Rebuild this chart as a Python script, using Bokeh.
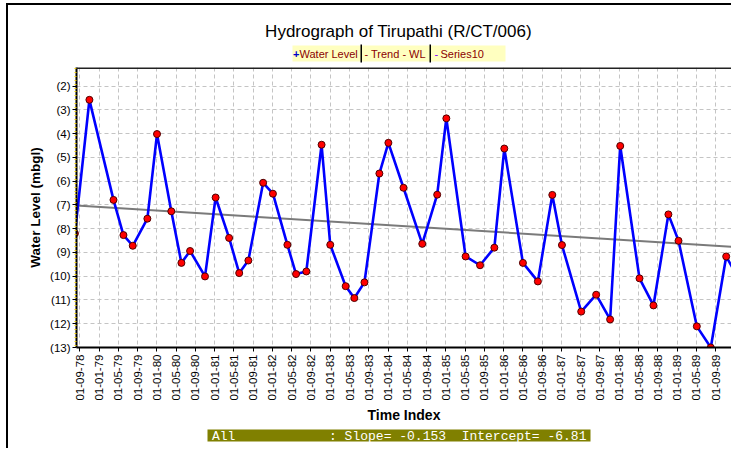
import numpy as np
import pandas as pd
from bokeh.plotting import figure
from bokeh.layouts import column
from bokeh.models import Range1d, FixedTicker, Span
from bokeh.core.properties import value
from bokeh.embed import file_html
from bokeh.resources import INLINE

# ---------------- data ----------------
dates = ["1978-08-01", "1978-11-01", "1979-04-01", "1979-06-03", "1979-08-01",
         "1979-11-02", "1980-01-02", "1980-04-01", "1980-06-04", "1980-07-28",
         "1980-11-01", "1981-01-07", "1981-04-01", "1981-06-04", "1981-08-01",
         "1981-11-03", "1982-01-04", "1982-04-04", "1982-05-28", "1982-08-02",
         "1982-11-07", "1983-01-01", "1983-04-07", "1983-06-01", "1983-08-04",
         "1983-11-07", "1984-01-03", "1984-04-07", "1984-08-04", "1984-11-07",
         "1985-01-04", "1985-05-04", "1985-08-04", "1985-11-03", "1986-01-05",
         "1986-05-01", "1986-08-04", "1986-11-04", "1987-01-04", "1987-05-04",
         "1987-08-07", "1987-11-04", "1988-01-07", "1988-05-07", "1988-08-04",
         "1988-11-07", "1989-01-10", "1989-05-04", "1989-08-01", "1989-11-07",
         "1990-01-07"]
water_level = [8.2, 2.58, 6.79, 8.27, 8.72,
               7.58, 4.02, 7.27, 9.44, 8.94,
               10.01, 6.69, 8.39, 9.87, 9.34,
               6.07, 6.53, 8.68, 9.91, 9.80,
               4.47, 8.68, 10.42, 10.92, 10.26,
               5.68, 4.39, 6.28, 8.64, 6.57,
               3.36, 9.17, 9.54, 8.80, 4.63,
               9.44, 10.22, 6.58, 8.69, 11.49,
               10.78, 11.82, 4.52, 10.09, 11.23,
               7.40, 8.51, 12.11, 13.0, 9.17,
               9.9]

x_tick_labels = ["01-09-78", "01-01-79", "01-05-79", "01-09-79", "01-01-80", "01-05-80",
                 "01-09-80", "01-01-81", "01-05-81", "01-09-81", "01-01-82", "01-05-82",
                 "01-09-82", "01-01-83", "01-05-83", "01-09-83", "01-01-84", "01-05-84",
                 "01-09-84", "01-01-85", "01-05-85", "01-09-85", "01-01-86", "01-05-86",
                 "01-09-86", "01-01-87", "01-05-87", "01-09-87", "01-01-88", "01-05-88",
                 "01-09-88", "01-01-89", "01-05-89", "01-09-89"]
y_ticks = [2, 3, 4, 5, 6, 7, 8, 9, 10, 11, 12, 13]
y_tick_labels = ["(2)", "(3)", "(4)", "(5)", "(6)", "(7)", "(8)", "(9)", "(10)", "(11)", "(12)", "(13)"]

legend_labels = ["Water Level", "- Trend - WL", "Series10"]

trend_slope = -0.153        # per year
trend_intercept = -6.81
trend_origin = "1977-03-07"

stats_text = "All            : Slope= -0.153  Intercept= -6.81"
title_text = "Hydrograph of Tirupathi (R/CT/006)"

# ---------------- helpers ----------------
BASE = pd.Timestamp("1978-09-01")


def month_index(ds):
    d = pd.to_datetime(pd.Series(ds))
    return ((d.dt.year - BASE.year) * 12 + (d.dt.month - BASE.month) + (d.dt.day - 1) / 30.0).to_numpy()


xm = month_index(dates)
x_ticks = [4 * i for i in range(len(x_tick_labels))]

W = 731
FRAME_LEFT = 76
HEADER_H = 67
MAIN_H = 358
FOOTER_H = 23
X0, X1 = -0.68, 135.3
Y_BOT, Y_TOP = 13.0, 1.22

FRAME_CSS = {
    "background-color": "white",
    "background-image": "linear-gradient(#000, #000), linear-gradient(#000, #000)",
    "background-size": "2px 100%, 100% 2px",
    "background-repeat": "no-repeat",
}


def pixel_canvas(h, top_line):
    # frame is aligned with the main plot's frame by the column layout,
    # so the x range maps page pixels FRAME_LEFT..W
    f = figure(width=W, height=h, output_backend="svg", toolbar_location=None,
               x_range=Range1d(FRAME_LEFT, W), y_range=Range1d(h, 0),
               x_axis_location=None, y_axis_location=None,
               min_border=0, min_border_left=0, min_border_right=0,
               min_border_top=0, min_border_bottom=0)
    f.grid.visible = False
    f.outline_line_color = None
    f.background_fill_color = None
    f.border_fill_color = None
    css = dict(FRAME_CSS)
    css["background-position"] = "6px 3px, 6px 3px" if top_line else "6px 0px, 6px -10px"
    f.styles = css
    return f


# ---------------- header ----------------
header = pixel_canvas(HEADER_H, True)
header.text(x=[398], y=[31], text=[title_text], text_align="center", text_baseline="middle",
            text_font=value("Liberation Sans"), text_font_size="17px", text_color="black")
header.quad(left=[292], right=[505], top=[45], bottom=[61], fill_color="#FFFFC0", line_color=None)
header.quad(left=[360, 429], right=[361.5, 430.5], top=[44, 44], bottom=[62, 62],
            fill_color="black", line_color=None)
lf = dict(text_font=value("Liberation Sans"), text_font_size="11px", text_baseline="middle",
          text_align="left")
header.text(x=[292.5], y=[53], text=["+"], text_color="#0000CC", text_font_style="bold", **lf)
header.text(x=[299], y=[53], text=[legend_labels[0]], text_color="#8B0000", **lf)
header.text(x=[364], y=[53], text=[legend_labels[1]], text_color="#8B0000", **lf)
header.text(x=[434], y=[53], text=["-"], text_color="#8000FF", **lf)
header.text(x=[440], y=[53], text=[legend_labels[2]], text_color="#8B0000", **lf)

# ---------------- main plot ----------------
p = figure(width=W, height=MAIN_H, output_backend="svg", toolbar_location=None,
           x_range=Range1d(X0, X1), y_range=Range1d(Y_BOT, Y_TOP),
           min_border_left=FRAME_LEFT, min_border_right=0, min_border_top=0, min_border_bottom=72)
p.title.visible = False
p.outline_line_color = None
p.background_fill_color = "white"
p.border_fill_color = None
css = dict(FRAME_CSS)
css["background-position"] = "6px 0px, 6px -10px"
p.styles = css

p.xaxis.ticker = FixedTicker(ticks=x_ticks)
p.xaxis.major_label_overrides = {t: lab for t, lab in zip(x_ticks, x_tick_labels)}
p.xaxis.major_label_orientation = np.pi / 2
p.xaxis.minor_tick_line_color = None
p.yaxis.ticker = FixedTicker(ticks=y_ticks, minor_ticks=list(np.arange(1.25, 13.0, 1 / 6)))
p.yaxis.major_label_overrides = {t: lab for t, lab in zip(y_ticks, y_tick_labels)}

for ax in (p.xaxis[0], p.yaxis[0]):
    ax.axis_line_color = "black"
    ax.axis_line_width = 2
    ax.major_tick_line_color = "black"
    ax.major_tick_out = 4
    ax.major_tick_in = 0
    ax.major_label_text_font = "Liberation Sans"
    ax.major_label_text_font_size = "11.5px"
    ax.major_label_text_color = "black"
    ax.axis_label_text_font = "Liberation Sans"
    ax.axis_label_text_font_style = "bold"
    ax.axis_label_text_color = "black"

p.xaxis.axis_label = "Time Index"
p.xaxis.axis_label_text_font_size = "14px"
p.xaxis.major_label_standoff = 3
p.xaxis.axis_label_standoff = 3
p.yaxis.axis_label = "Water Level (mbgl)"
p.yaxis.axis_label_text_font_size = "13.5px"
p.yaxis.major_label_standoff = 2
p.yaxis.axis_label_standoff = 4
p.yaxis.minor_tick_line_color = "#F0D000"
p.yaxis.minor_tick_out = 2
p.yaxis.minor_tick_in = 0
p.yaxis.minor_tick_line_width = 1

p.xgrid.ticker = FixedTicker(ticks=x_ticks)
p.ygrid.ticker = FixedTicker(ticks=y_ticks)
for g in (p.xgrid[0], p.ygrid[0]):
    g.grid_line_color = "#C4C4C4"
    g.grid_line_dash = "4 3"
    g.grid_line_width = 1

p.add_layout(Span(location=Y_TOP, dimension="width", line_color="#222222", line_width=3))

origin_m = month_index([trend_origin])[0]
tx = np.array([X0, X1])
ty = -(trend_intercept + trend_slope * (tx - origin_m) / 12.0)
p.line(tx, ty, line_color="#7A7A7A", line_width=2)

p.line(xm, water_level, line_color="#0000FF", line_width=2.6)
p.scatter(xm, water_level, marker="circle", size=7, fill_color="#FF0000",
          line_color="#500000", line_width=1)

# ---------------- footer ----------------
footer = pixel_canvas(FOOTER_H, False)
footer.quad(left=[207], right=[590], top=[4], bottom=[16], fill_color="#808000", line_color=None)
footer.text(x=[211.5], y=[10.5], text=[stats_text.replace(" ", "\u00a0")], text_align="left",
            text_baseline="middle", text_font=value("Liberation Mono"), text_font_size="13px",
            text_color="white")

layout = column(header, p, footer, spacing=0)
open("out.html", "w").write(file_html(layout, INLINE))
